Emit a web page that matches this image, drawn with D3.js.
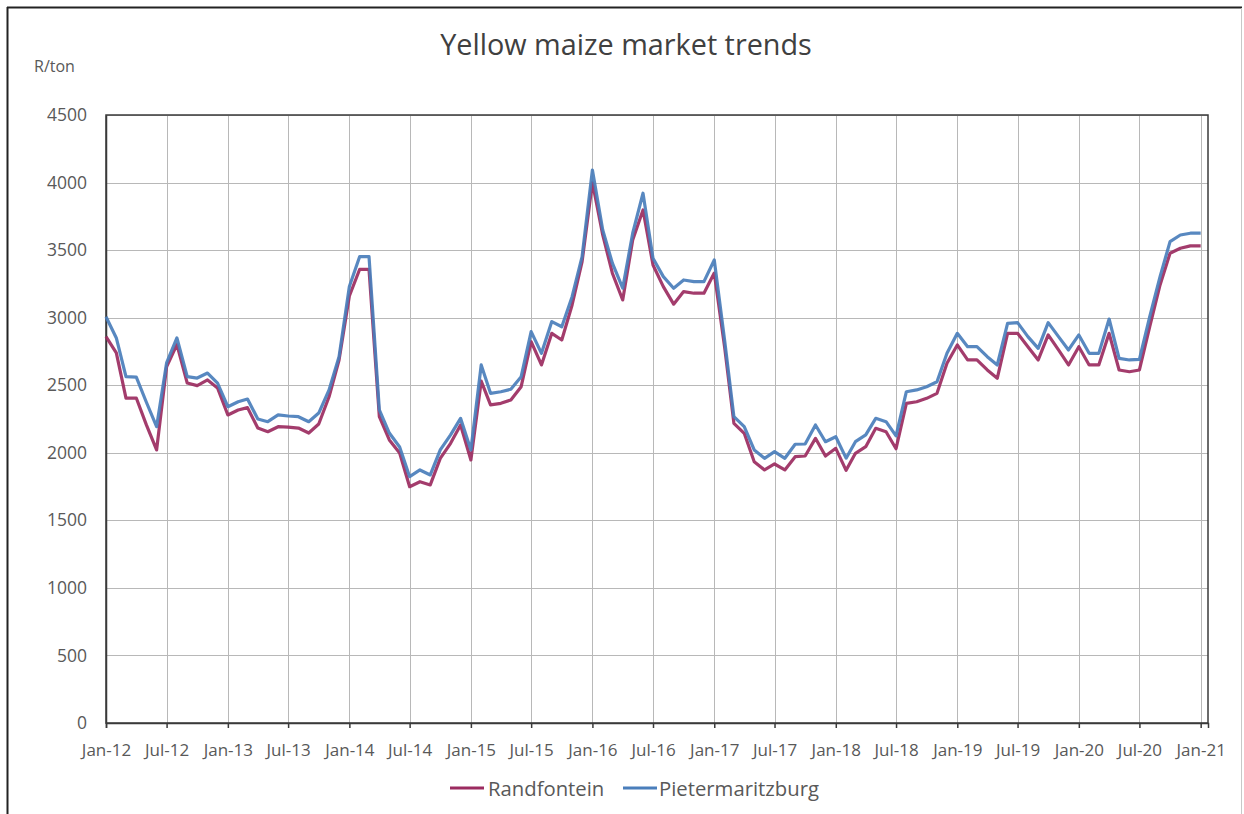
<!DOCTYPE html>
<html>
<head>
<meta charset="utf-8">
<title>Yellow maize market trends</title>
<script src="https://cdn.jsdelivr.net/npm/d3@7"></script>
<style>
  html, body { margin: 0; padding: 0; background: #ffffff; }
  svg { display: block; }
  text { font-family: "Open Sans", Lato, "Liberation Sans", sans-serif; }
</style>
</head>
<body>
<svg id="chart" width="1244" height="814"></svg>
<script>
// Monthly yellow maize prices (R/ton), Jan 2012 - Jan 2021
const firstMonth = new Date(2012, 0, 1);
const lastMonth = new Date(2021, 0, 1);

const randfontein = [
  2860, 2740, 2405, 2405, 2208, 2021, 2637, 2800, 2516, 2497, 2539, 2480,
  2280, 2317, 2334, 2183, 2156, 2193, 2190, 2183, 2146, 2213, 2415, 2687,
  3160, 3358, 3358, 2267, 2095, 1998, 1749, 1786, 1762, 1959, 2070, 2206,
  1947, 2530, 2354, 2366, 2391, 2489, 2822, 2650, 2884, 2835, 3094, 3415,
  4000, 3612, 3329, 3131, 3575, 3797, 3390, 3230, 3100, 3193, 3181, 3181,
  3330, 2785, 2218, 2144, 1934, 1873, 1917, 1873, 1971, 1976, 2107, 1976,
  2033, 1870, 1996, 2045, 2181, 2156, 2030, 2366, 2378, 2403, 2440, 2662,
  2798, 2687, 2687, 2613, 2551, 2884, 2884, 2785, 2687, 2872, 2761, 2650,
  2785, 2650, 2650, 2884, 2613, 2600, 2613, 2933, 3242, 3477, 3514, 3531,
  3531
];

const pietermaritzburg = [
  3007, 2850, 2563, 2560, 2376, 2193, 2665, 2850, 2563, 2553, 2590, 2516,
  2341, 2378, 2398, 2250, 2230, 2280, 2272, 2267, 2230, 2294, 2465, 2711,
  3230, 3452, 3452, 2317, 2146, 2043, 1823, 1873, 1836, 2021, 2132, 2255,
  2021, 2650, 2440, 2452, 2470, 2563, 2897, 2736, 2971, 2933, 3155, 3452,
  4093, 3649, 3403, 3218, 3625, 3921, 3440, 3304, 3218, 3279, 3267, 3267,
  3427, 2835, 2267, 2193, 2021, 1959, 2008, 1959, 2063, 2065, 2206, 2082,
  2119, 1960, 2082, 2132, 2255, 2230, 2125, 2452, 2465, 2489, 2526, 2736,
  2884, 2785, 2785, 2711, 2650, 2958, 2963, 2860, 2773, 2963, 2860, 2761,
  2872, 2736, 2736, 2990, 2699, 2687, 2692, 3007, 3304, 3563, 3612, 3625,
  3625
];

const yTickValues = [0, 500, 1000, 1500, 2000, 2500, 3000, 3500, 4000, 4500];
const seriesNames = ["Randfontein", "Pietermaritzburg"];
const seriesColors = ["#9b2b60", "#4a7ebb"];

const months = d3.timeMonth.range(firstMonth, d3.timeMonth.offset(lastMonth, 1));

const svg = d3.select("#chart");
const W = 1244, H = 814;
const plot = { left: 106, right: 1208, top: 115, bottom: 723 };
const labelColor = "#595959";

// outer frame
svg.append("rect").attr("x", 0).attr("y", 0).attr("width", W).attr("height", H).attr("fill", "#fff");
svg.append("line").attr("x1", 7.5).attr("x2", 7.5).attr("y1", 7).attr("y2", H)
  .attr("stroke", "#222").attr("stroke-width", 2);
svg.append("line").attr("x1", 7).attr("x2", 1242).attr("y1", 7.5).attr("y2", 7.5)
  .attr("stroke", "#222").attr("stroke-width", 2);
svg.append("line").attr("x1", 1241.5).attr("x2", 1241.5).attr("y1", 8).attr("y2", H)
  .attr("stroke", "#c8c8c8").attr("stroke-width", 1);

const x = d3.scaleTime()
  .domain([firstMonth, new Date(2021, 0, 23)])
  .range([plot.left, plot.right]);
const y = d3.scaleLinear().domain([0, 4500]).range([plot.bottom, plot.top]);

const xTicks = d3.timeMonth.every(6).range(firstMonth, d3.timeMonth.offset(lastMonth, 1));
const fmt = d3.timeFormat("%b-%y");

// grid
const grid = svg.append("g");
grid.selectAll(".hg").data(yTickValues).join("line")
  .attr("x1", plot.left).attr("x2", plot.right)
  .attr("y1", d => Math.round(y(d)) + 0.5).attr("y2", d => Math.round(y(d)) + 0.5)
  .attr("stroke", "#b8b8b8").attr("stroke-width", 1);
grid.selectAll(".vg").data(xTicks).join("line")
  .attr("x1", d => Math.round(x(d)) + 0.5).attr("x2", d => Math.round(x(d)) + 0.5)
  .attr("y1", plot.top).attr("y2", plot.bottom)
  .attr("stroke", "#b8b8b8").attr("stroke-width", 1);

// plot border
svg.append("rect")
  .attr("x", plot.left).attr("y", plot.top)
  .attr("width", plot.right - plot.left).attr("height", plot.bottom - plot.top)
  .attr("fill", "none").attr("stroke", "#3a3a3a").attr("stroke-width", 1.5);

// x axis
const xAxis = svg.append("g")
  .attr("transform", `translate(0,${plot.bottom})`)
  .call(d3.axisBottom(x).tickValues(xTicks).tickFormat(fmt).tickSize(5).tickPadding(16));
xAxis.select(".domain").attr("stroke", "#3a3a3a").attr("stroke-width", 1.5);
xAxis.selectAll(".tick line").attr("stroke", "#3a3a3a").attr("stroke-width", 1.5);
xAxis.selectAll(".tick text")
  .attr("font-size", 17).attr("fill", labelColor)
  .style("font-family", "'Open Sans', sans-serif");

// y axis
const yAxis = svg.append("g")
  .attr("transform", `translate(${plot.left},0)`)
  .call(d3.axisLeft(y).tickValues(yTickValues).tickFormat(d3.format("d")).tickSize(0).tickPadding(19));
yAxis.select(".domain").attr("stroke", "#3a3a3a").attr("stroke-width", 1.5);
yAxis.selectAll(".tick text")
  .attr("font-size", 17.5).attr("fill", labelColor)
  .style("font-family", "'Open Sans', sans-serif");

// series lines
const line = d3.line().x((d, i) => x(months[i])).y(d => y(d));
[randfontein, pietermaritzburg].forEach((vals, k) => {
  svg.append("path")
    .datum(vals)
    .attr("d", line)
    .attr("fill", "none")
    .attr("stroke", seriesColors[k])
    .attr("stroke-width", 3.2)
    .attr("stroke-linejoin", "round")
    .attr("opacity", 0.92);
});

// title and unit label
svg.append("text")
  .attr("x", 626).attr("y", 55)
  .attr("text-anchor", "middle")
  .attr("font-size", 28.8).attr("fill", "#404040")
  .text("Yellow maize market trends");
svg.append("text")
  .attr("x", 34).attr("y", 72)
  .attr("font-size", 16).attr("fill", labelColor)
  .text("R/ton");

// legend
const legend = svg.append("g");
const legendItems = [
  { name: seriesNames[0], color: seriesColors[0], x1: 450, x2: 484, tx: 488 },
  { name: seriesNames[1], color: seriesColors[1], x1: 623, x2: 657, tx: 659 }
];
legendItems.forEach(it => {
  legend.append("line")
    .attr("x1", it.x1).attr("x2", it.x2).attr("y1", 788).attr("y2", 788)
    .attr("stroke", it.color).attr("stroke-width", 3);
  legend.append("text")
    .attr("x", it.tx).attr("y", 796)
    .attr("font-size", 20.3).attr("fill", labelColor)
    .text(it.name);
});
</script>
</body>
</html>
